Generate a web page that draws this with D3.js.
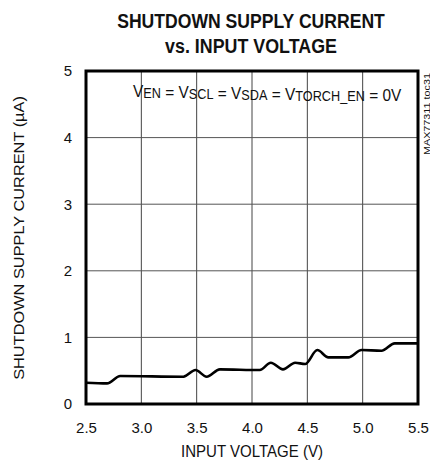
<!DOCTYPE html>
<html>
<head>
<meta charset="utf-8">
<script src="https://cdn.jsdelivr.net/npm/d3@7"></script>
<style>
  body { margin: 0; background: #fff; }
  text { font-family: "Liberation Sans", Arial, sans-serif; fill: #111; }
</style>
</head>
<body>
<svg id="chart" width="430" height="463"></svg>
<script>
// Curve values (V, uA)
var inputVoltage = [2.5, 2.69, 2.81, 3.38, 3.49, 3.59, 3.71, 4.07, 4.17, 4.28, 4.39, 4.48, 4.59, 4.69, 4.87, 4.99, 5.17, 5.29, 5.5];
var supplyCurrent = [0.32, 0.31, 0.42, 0.41, 0.51, 0.41, 0.52, 0.51, 0.62, 0.52, 0.62, 0.60, 0.81, 0.70, 0.70, 0.81, 0.80, 0.91, 0.91];
var xTicks = [2.5, 3.0, 3.5, 4.0, 4.5, 5.0, 5.5];
var yTicks = [0, 1, 2, 3, 4, 5];

var svg = d3.select('#chart'),
  margin = {top: 71, right: 12, bottom: 59, left: 86},
  width = 430 - margin.left - margin.right,
  height = 463 - margin.top - margin.bottom;

var x = d3.scaleLinear().domain([2.5, 5.5]).range([0, width]);
var y = d3.scaleLinear().domain([0, 5]).range([height, 0]);

function squeezeText(parent, tx, ty, rot, size, weight, anchor, str, targetWidth) {
  /* The original uses a narrow face, so draw normal text and squeeze it to width. */
  var wrap = parent.append('g');
  var inner = wrap.append('g');
  var t = inner.append('text')
    .attr('font-size', size)
    .attr('font-weight', weight)
    .attr('text-anchor', anchor)
    .text(str);
  var k = targetWidth / t.node().getBBox().width;
  inner.attr('transform', 'scale(' + k + ',1)');
  wrap.attr('transform', 'translate(' + tx + ',' + ty + ') rotate(' + rot + ')');
  return t;
}

var g = svg.append('g')
  .attr('transform', 'translate(' + margin.left + ',' + margin.top + ')');

// Title
squeezeText(svg, 251, 28, 0, 21, 'bold', 'middle', 'SHUTDOWN SUPPLY CURRENT', 268);
squeezeText(svg, 251, 53, 0, 21, 'bold', 'middle', 'vs. INPUT VOLTAGE', 172);

// grid
g.selectAll('.vgrid')
  .data(xTicks.slice(1, -1))
  .enter().append('line')
    .attr('x1', function(d) { return x(d); })
    .attr('x2', function(d) { return x(d); })
    .attr('y1', 0).attr('y2', height)
    .attr('stroke', '#444').attr('stroke-width', 1);
g.selectAll('.hgrid')
  .data(yTicks.slice(1, -1))
  .enter().append('line')
    .attr('y1', function(d) { return y(d); })
    .attr('y2', function(d) { return y(d); })
    .attr('x1', 0).attr('x2', width)
    .attr('stroke', '#555').attr('stroke-width', 1);

// axes, labels only
var xAxis = g.append('g')
  .attr('transform', 'translate(0,' + height + ')')
  .call(d3.axisBottom(x).tickValues(xTicks).tickFormat(d3.format('.1f')).tickSize(0).tickPadding(18));
var yAxis = g.append('g')
  .call(d3.axisLeft(y).tickValues(yTicks).tickFormat(d3.format('d')).tickSize(0).tickPadding(14));
[xAxis, yAxis].forEach(function(a) {
  a.select('.domain').remove();
  a.selectAll('text').attr('font-size', 15).attr('font-family', '"Liberation Sans", Arial, sans-serif').attr('fill', '#111');
});

// curve
var line = d3.line()
  .x(function(d, i) { return x(inputVoltage[i]); })
  .y(function(d) { return y(d); })
  .curve(d3.curveMonotoneX);
g.append('path')
  .datum(supplyCurrent)
  .attr('d', line)
  .attr('fill', 'none')
  .attr('stroke', '#000')
  .attr('stroke-width', 2.6)
  .attr('stroke-linejoin', 'round');

// frame
g.append('rect')
  .attr('x', 0).attr('y', 0)
  .attr('width', width).attr('height', height)
  .attr('fill', 'none').attr('stroke', '#000').attr('stroke-width', 3);

// condition note with subscripts
var noteWrap = svg.append('g');
var noteInner = noteWrap.append('g');
var note = noteInner.append('text').attr('font-size', 17);
var parts = [['V', 'EN'], [' = V', 'SCL'], [' = V', 'SDA'], [' = V', 'TORCH_EN'], [' = 0V', null]];
parts.forEach(function(p) {
  note.append('tspan').attr('font-size', 17).attr('dy', 0).text(p[0]);
  if (p[1]) {
    note.append('tspan').attr('font-size', 14).attr('dy', 1).text(p[1]);
    note.append('tspan').attr('font-size', 17).attr('dy', -1).text('');
  }
});
var nk = 269 / note.node().getBBox().width;
noteInner.attr('transform', 'scale(' + nk + ',1)');
noteWrap.attr('transform', 'translate(133,97)');

// side id
squeezeText(svg, 429.5, 155, -90, 9, 'normal', 'start', 'MAX77311 toc31', 82);

// axis titles
squeezeText(svg, margin.left + width / 2, 457, 0, 16, 'normal', 'middle', 'INPUT VOLTAGE (V)', 142);
squeezeText(svg, 24, 238, -90, 15.5, 'normal', 'middle', 'SHUTDOWN SUPPLY CURRENT (µA)', 284);
</script>
</body>
</html>
